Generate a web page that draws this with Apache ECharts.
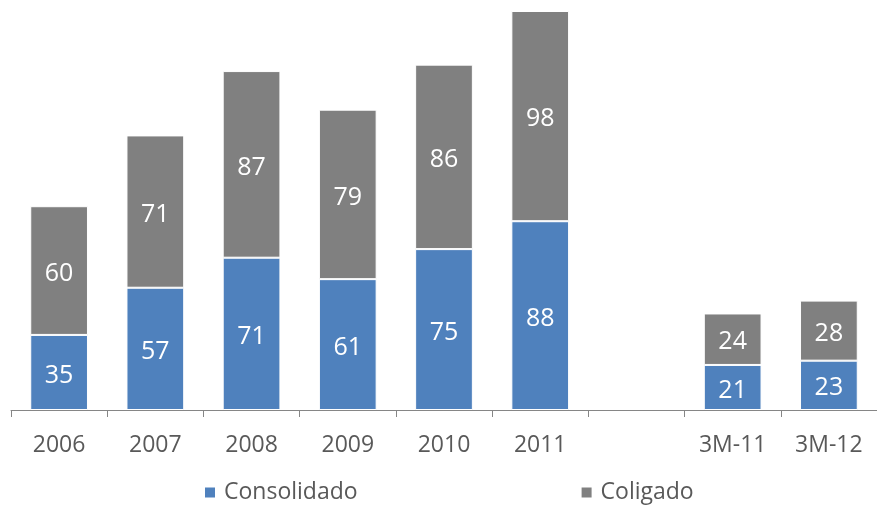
<!DOCTYPE html>
<html>
<head>
<meta charset="utf-8">
<script src="https://cdn.jsdelivr.net/npm/echarts@6/dist/echarts.min.js"></script>
<style>
  html, body { margin: 0; padding: 0; background: #fff; }
  #chart { width: 877px; height: 506px; }
</style>
</head>
<body>
<div id="chart"></div>
<script>
// categorias (a posição vazia separa os anos dos trimestres)
const categories = ['2006', '2007', '2008', '2009', '2010', '2011', '', '3M-11', '3M-12']
const consolidado = [35, 57, 71, 61, 75, 88, null, 21, 23]
const coligado = [60, 71, 87, 79, 86, 98, null, 24, 28]

const chart = echarts.init(document.getElementById('chart'))
const labelStyle = {
  show: true,
  position: 'inside',
  color: '#ffffff',
  fontSize: 25,
  fontFamily: 'Open Sans',
  offset: [0, 3]
}
chart.setOption({
  animation: false,
  grid: { left: 11, right: -3, top: 11, bottom: 96, containLabel: false },
  legend: {
    bottom: -3,
    left: 198,
    itemWidth: 12,
    itemHeight: 12,
    itemGap: 222,
    icon: 'rect',
    textStyle: { fontSize: 23, color: '#595959', fontFamily: 'Open Sans', padding: [0, 0, 0, 3] },
    data: ['Consolidado', 'Coligado']
  },
  xAxis: {
    type: 'category',
    data: categories,
    axisLine: { lineStyle: { color: '#868686', width: 1 } },
    axisTick: { show: true, length: 7, lineStyle: { color: '#868686' } },
    axisLabel: { color: '#595959', fontSize: 23, fontFamily: 'Open Sans', margin: 24 }
  },
  yAxis: {
    type: 'value',
    min: 0,
    max: 186,
    show: false,
    splitLine: { show: false }
  },
  series: [
    {
      name: 'Consolidado',
      type: 'bar',
      stack: 'total',
      barWidth: '60%',
      data: consolidado,
      itemStyle: { color: '#4f81bd', borderColor: '#ffffff', borderWidth: 1 },
      label: labelStyle
    },
    {
      name: 'Coligado',
      type: 'bar',
      stack: 'total',
      barWidth: '60%',
      data: coligado,
      itemStyle: { color: '#808080', borderColor: '#ffffff', borderWidth: 1 },
      label: labelStyle
    }
  ]
})
</script>
</body>
</html>
